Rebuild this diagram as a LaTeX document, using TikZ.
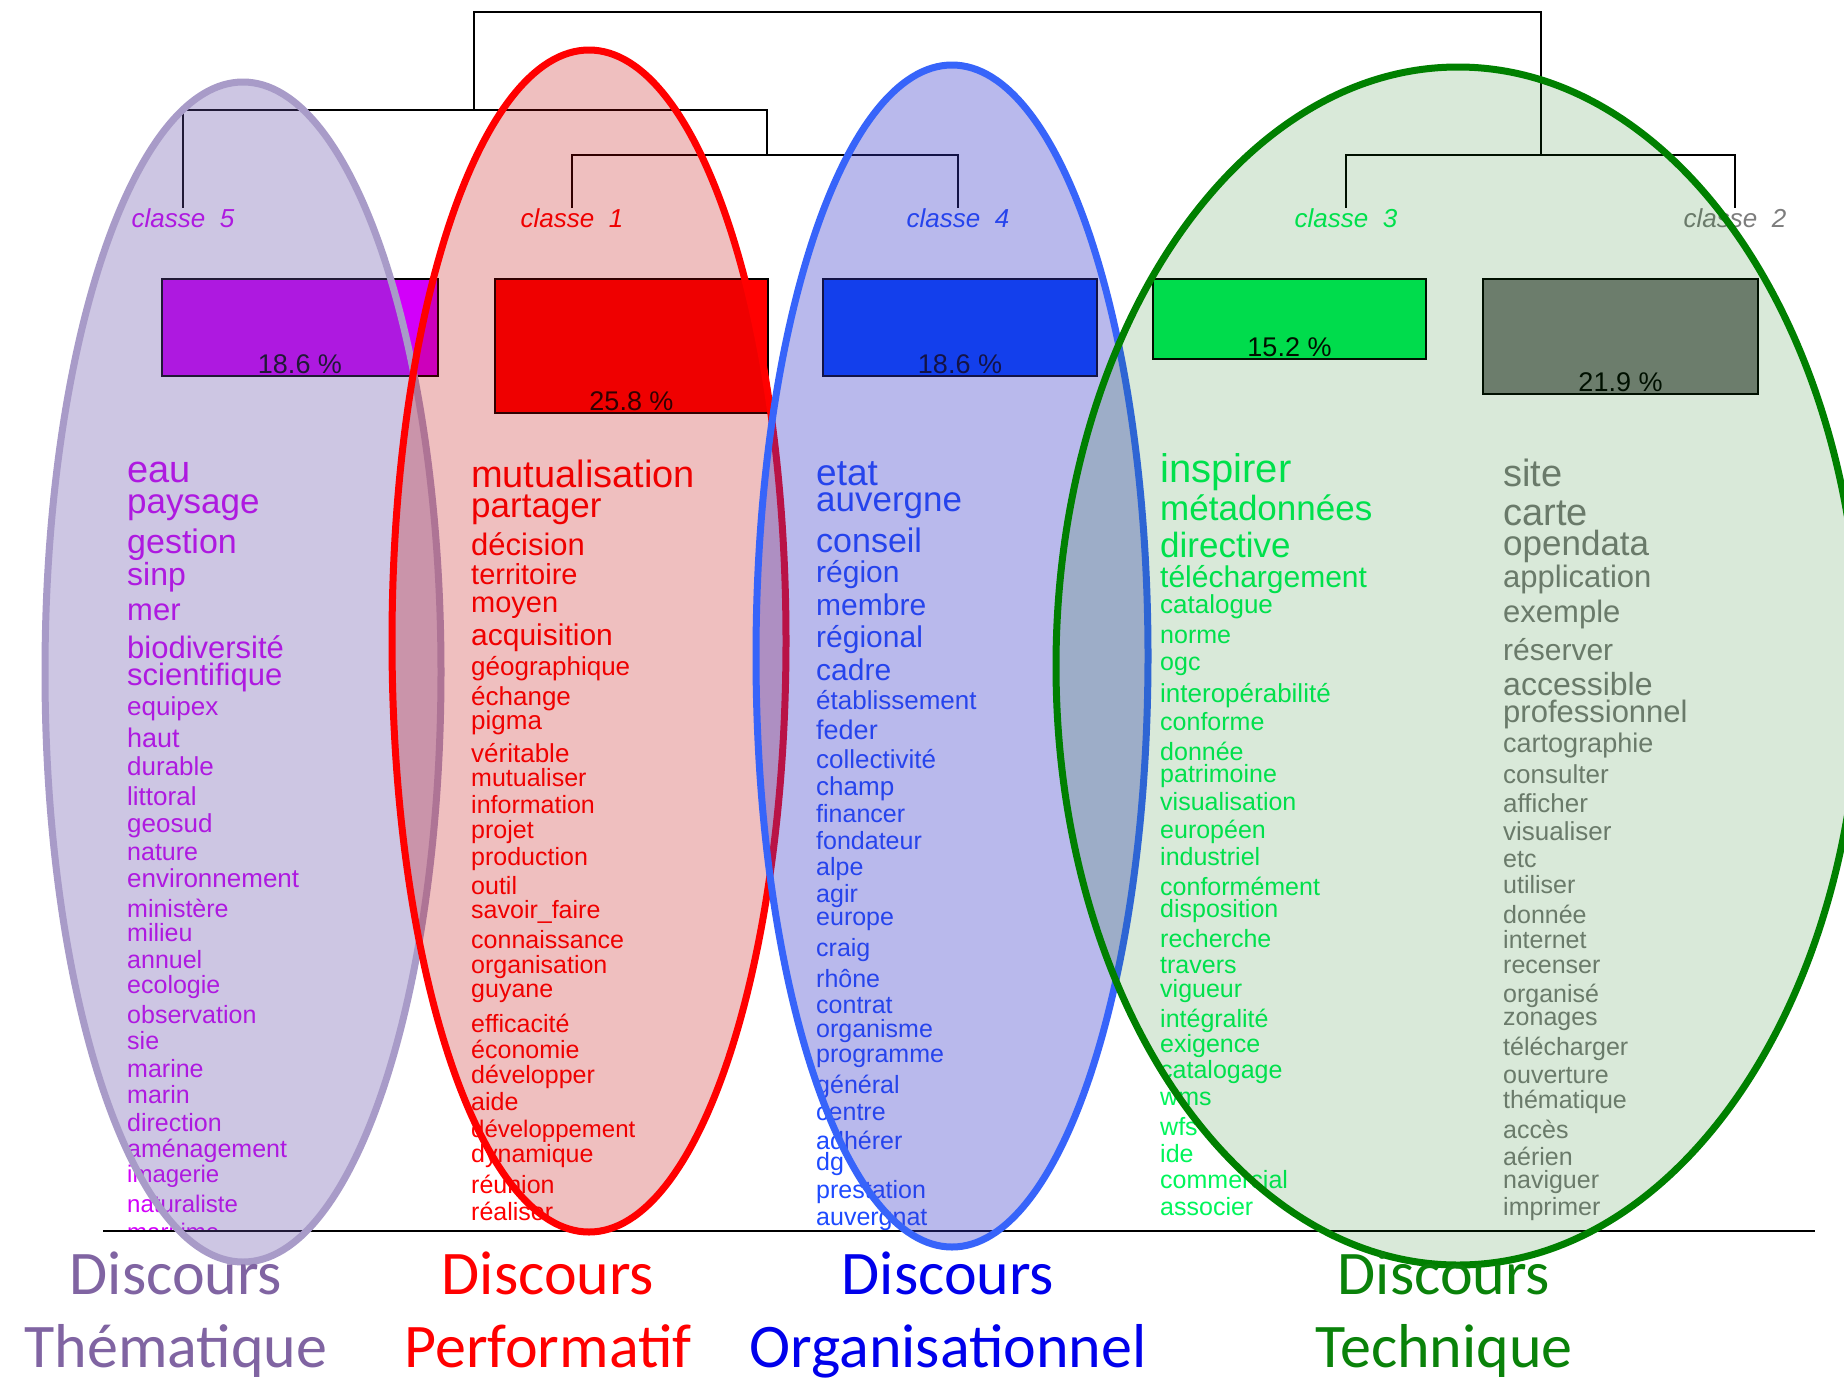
\documentclass[tikz,border=0pt]{standalone}
\usepackage{fontspec}
\setmainfont{Liberation Sans}
\newfontfamily\discfont{Carlito}
\definecolor{purp}{RGB}{210,0,250}
\definecolor{rouge}{RGB}{255,0,0}
\definecolor{bleu}{RGB}{30,75,255}
\definecolor{vert}{RGB}{0,245,90}
\definecolor{gris}{RGB}{125,125,125}
\definecolor{barbleu}{RGB}{0,68,255}
\definecolor{barvert}{RGB}{0,240,90}
\definecolor{fillpurp}{RGB}{100,80,170}
\definecolor{fillrouge}{RGB}{194,0,0}
\definecolor{fillbleu}{RGB}{55,55,201}
\definecolor{fillvert}{RGB}{0,110,0}
\definecolor{linepurp}{RGB}{168,155,200}
\definecolor{linebleu}{RGB}{55,100,250}
\definecolor{linevert}{RGB}{0,128,0}
\definecolor{discpurp}{RGB}{128,100,162}
\definecolor{discbleu}{RGB}{0,0,235}
\definecolor{discvert}{RGB}{10,130,10}

\begin{document}
\begin{tikzpicture}[x=1pt, y=-1pt,
    dendro/.style={draw=black, line width=2pt},
    classlab/.style={anchor=base, inner sep=0pt, font=\fontsize{26}{26}\selectfont\itshape},
    bar/.style={draw=black, line width=2pt, anchor=north west, inner sep=0pt},
    pct/.style={anchor=base, inner sep=0pt, font=\fontsize{27}{27}\selectfont},
    word/.style={anchor=base west, inner sep=0pt},
    blob/.style={line width=7pt},
    disc/.style={anchor=base, inner sep=0pt, font=\discfont\fontsize{62}{62}\selectfont}
]
\path[use as bounding box, fill=white] (0,0) rectangle (1844,1382);

\node[classlab, text=purp] (lab5) at (183,227) {classe~~5};
\node[classlab, text=rouge] (lab1) at (572,227) {classe~~1};
\node[classlab, text=bleu] (lab4) at (958,227) {classe~~4};
\node[classlab, text=vert] (lab3) at (1346,227) {classe~~3};
\node[classlab, text=gris] (lab2) at (1735,227) {classe~~2};

\coordinate (k14) at (767,155);
\coordinate (k5) at (767,110);
\coordinate (k32) at (1541,155);
\coordinate (root) at (474,12);
\draw[dendro] (lab1.north) |- (k14) -| (lab4.north);
\draw[dendro] (lab3.north) |- (k32) -| (lab2.north);
\draw[dendro] (lab5.north) |- (k5) -- (k14);
\draw[dendro] (root |- k5) -- (root) -| (k32);

\node[bar, fill=purp, minimum width=276pt, minimum height=97pt] (bar5) at (161,278) {};
\node[bar, fill=rouge, minimum width=273pt, minimum height=134pt] (bar1) at (494,278) {};
\node[bar, fill=barbleu, minimum width=274pt, minimum height=97pt] (bar4) at (822,278) {};
\node[bar, fill=barvert, minimum width=273pt, minimum height=80pt] (bar3) at (1152,278) {};
\node[bar, fill=gray, minimum width=275pt, minimum height=115pt] (bar2) at (1482,278) {};
\node[pct] (p5) at ([yshift=4pt]bar5.south) {18.6 \%};
\node[pct] (p1) at ([yshift=4pt]bar1.south) {25.8 \%};
\node[pct] (p4) at ([yshift=4pt]bar4.south) {18.6 \%};
\node[pct] (p3) at ([yshift=4pt]bar3.south) {15.2 \%};
\node[pct] (p2) at ([yshift=4pt]bar2.south) {21.9 \%};

\begin{scope}
\clip (0,0) rectangle (1844,1230);
\foreach \w/\s/\y [count=\i] in {eau/38/482, paysage/35/513, gestion/34/553, sinp/32/585, mer/31/620,
    biodiversité/31/658, scientifique/31/685, equipex/26/715, haut/27/747, durable/26/775,
    littoral/26/805, geosud/26/832, nature/25/860, environnement/26/887, ministère/25/917,
    milieu/25/941, annuel/25/968, ecologie/25/993, observation/25/1023, sie/25/1049,
    marine/25/1077, marin/25/1103, direction/25/1131, aménagement/25/1157, imagerie/24/1182,
    naturaliste/24/1212, maritime/24/1240}
  \node[word, text=purp, font=\fontsize{\s}{\s}\selectfont] (w5-\i) at (127,\y) {\w};
\foreach \w/\s/\y [count=\i] in {mutualisation/38/487, partager/35/517, décision/31/555, territoire/29/584,
    moyen/29/612, acquisition/30/645, géographique/26/675, échange/26/705, pigma/26/729,
    véritable/26/762, mutualiser/25/786, information/25/813, projet/25/838, production/25/865,
    outil/25/894, savoir\_faire/25/918, connaissance/25/948, organisation/25/973, guyane/25/997,
    efficacité/25/1032, économie/25/1058, développer/25/1083, aide/25/1110, développement/24/1137,
    dynamique/25/1162, réunion/25/1193, réaliser/25/1220}
  \node[word, text=rouge, font=\fontsize{\s}{\s}\selectfont] (w1-\i) at (471,\y) {\w};
\foreach \w/\s/\y [count=\i] in {etat/37/485, auvergne/35/511, conseil/34/552, région/30/582,
    membre/30/615, régional/30/647, cadre/30/680, établissement/26/709, feder/27/739,
    collectivité/26/768, champ/26/795, financer/25/822, fondateur/25/849, alpe/25/875,
    agir/25/902, europe/25/925, craig/25/956, rhône/25/987, contrat/25/1013, organisme/25/1037,
    programme/25/1062, général/25/1093, centre/25/1120, adhérer/25/1149, dg/25/1170,
    prestation/25/1198, auvergnat/25/1225}
  \node[word, text=bleu, font=\fontsize{\s}{\s}\selectfont] (w4-\i) at (816,\y) {\w};
\foreach \w/\s/\y [count=\i] in {inspirer/40/482, métadonnées/35/520, directive/35/557,
    téléchargement/30/587, catalogue/26/613, norme/25/643, ogc/25/670, interopérabilité/26/702,
    conforme/25/730, donnée/25/760, patrimoine/25/782, visualisation/25/810, européen/25/838,
    industriel/25/865, conformément/25/895, disposition/25/917, recherche/25/947, travers/25/973,
    vigueur/25/997, intégralité/25/1027, exigence/25/1052, catalogage/25/1078, wms/25/1105,
    wfs/25/1135, ide/25/1162, commercial/25/1188, associer/25/1215}
  \node[word, text=vert, font=\fontsize{\s}{\s}\selectfont] (w3-\i) at (1160,\y) {\w};
\foreach \w/\s/\y [count=\i] in {site/38/486, carte/38/525, opendata/35/555, application/31/587,
    exemple/31/622, réserver/30/660, accessible/32/695, professionnel/31/722, cartographie/27/752,
    consulter/26/783, afficher/26/812, visualiser/26/840, etc/25/867, utiliser/25/893,
    donnée/25/923, internet/25/948, recenser/25/973, organisé/25/1002, zonages/25/1025,
    télécharger/25/1055, ouverture/25/1083, thématique/25/1108, accès/25/1138, aérien/25/1165,
    naviguer/25/1188, imprimer/25/1215}
  \node[word, text=gris, font=\fontsize{\s}{\s}\selectfont] (w2-\i) at (1503,\y) {\w};
\end{scope}

\coordinate (baseL) at (103,1231);
\coordinate (baseR) at (1815,1231);
\draw[line width=2pt] (baseL) -- (baseR);

\path[blob, draw=linepurp, fill=fillpurp, fill opacity=0.32] (243,672) ellipse [x radius=198pt, y radius=590pt];
\path[blob, draw=rouge, fill=fillrouge, fill opacity=0.25] (589,641) ellipse [x radius=197pt, y radius=591pt];
\path[blob, draw=linebleu, fill=fillbleu, fill opacity=0.35] (952,656) ellipse [x radius=196pt, y radius=591pt];
\path[blob, draw=linevert, fill=fillvert, fill opacity=0.15] (1458,666) ellipse [x radius=402pt, y radius=599pt];

\node[disc, text=discpurp] (d5a) at (176,1294) {Discours};
\node[disc, text=discpurp] (d5b) at (176,1367) {Thématique};
\node[disc, text=rouge] (d1a) at (548,1294) {Discours};
\node[disc, text=rouge] (d1b) at (548,1367) {Performatif};
\node[disc, text=discbleu] (d4a) at (948,1294) {Discours};
\node[disc, text=discbleu] (d4b) at (948,1367) {Organisationnel};
\node[disc, text=discvert] (d3a) at (1444,1294) {Discours};
\node[disc, text=discvert] (d3b) at (1444,1367) {Technique};
\end{tikzpicture}
\end{document}
